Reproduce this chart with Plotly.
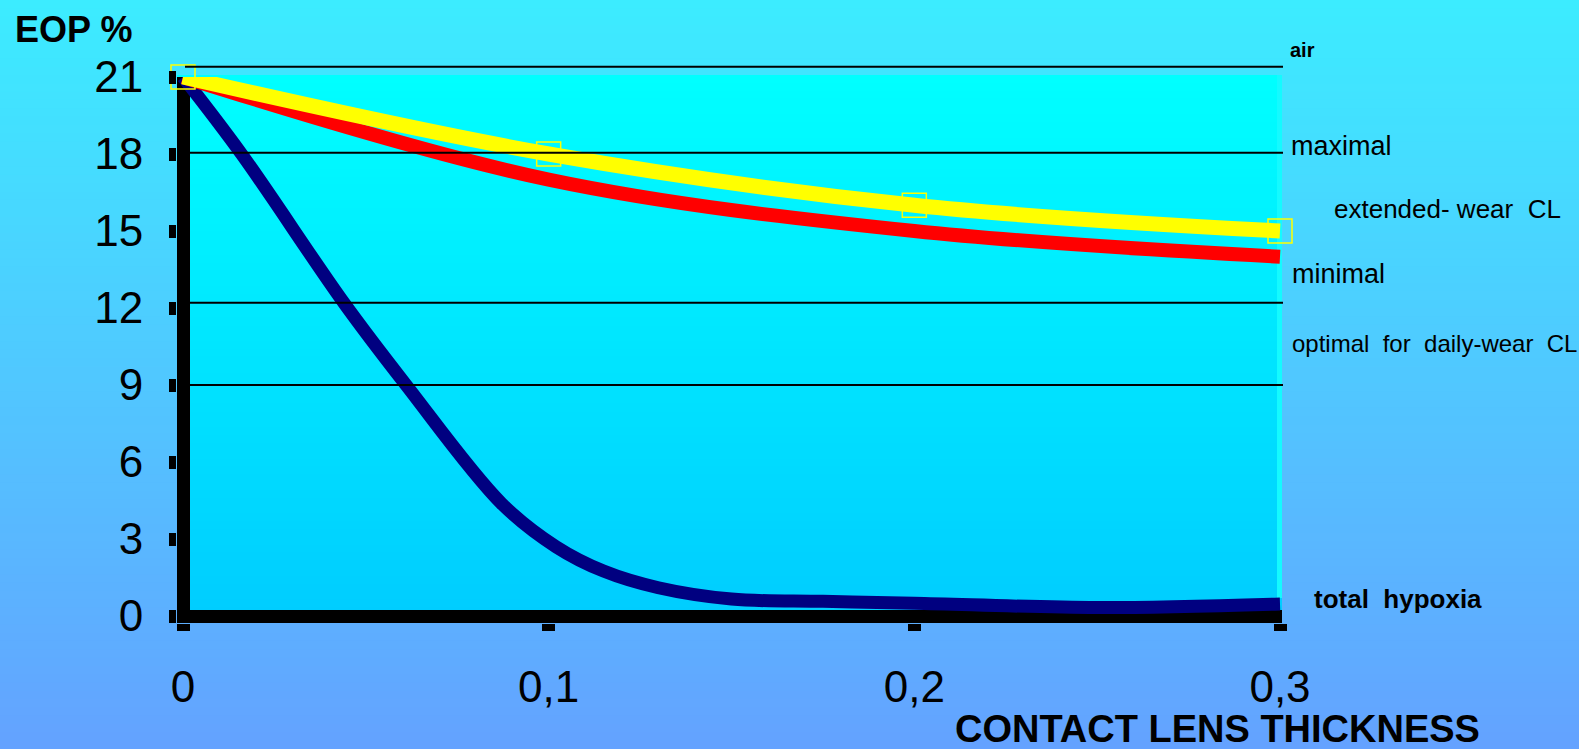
import plotly.graph_objects as go

# ---- data -------------------------------------------------------------
x_tick_vals = [0, 0.1, 0.2, 0.3]
x_tick_text = ["0", "0,1", "0,2", "0,3"]
y_tick_vals = [0, 3, 6, 9, 12, 15, 18, 21]

thickness = [0, 0.1, 0.2, 0.3]
eop_upper = [21, 18, 16, 15]   # yellow curve
eop_lower = [21, 17, 15, 14]   # red curve

hypoxia_thickness = [0, 0.016, 0.044, 0.061, 0.087, 0.102, 0.115, 0.13,
                     0.15, 0.175, 0.2, 0.25, 0.3]
hypoxia_eop = [21, 18.0, 12.2, 9.0, 4.4, 2.7, 1.75, 1.1,
               0.66, 0.57, 0.5, 0.33, 0.47]

level_lines = [9, 12.2, 18.05]   # reference levels inside the plot
air_level = 21.4                 # "air" level, drawn just above the frame

zone_labels = ["air", "maximal", "extended-\u00a0wear\u00a0 CL", "minimal",
               "optimal\u00a0 for\u00a0 daily-wear\u00a0 CL"]

# ---- geometry (pixels) ------------------------------------------------
W, H = 1579, 749
L, R, T, B = 177, 1282, 77, 623          # plot area edges
X0_PX, X3_PX = 183, 1280                 # pixel of x=0 and x=0.3
Y0_PX, Y21_PX = 616, 77                  # pixel of y=0 and y=21

kx = (X3_PX - X0_PX) / 0.3
ky = (Y0_PX - Y21_PX) / 21.0
x_range = [-(X0_PX - L) / kx, 0.3 + (R - X3_PX) / kx]
y_range = [-(B - Y0_PX) / ky, 21]


def px_x(p):
    return (p - L) / (R - L)


def px_y(p):
    return (B - p) / (B - T)


def lerp_color(stops, t):
    for (t0, c0), (t1, c1) in zip(stops, stops[1:]):
        if t <= t1:
            f = (t - t0) / (t1 - t0) if t1 > t0 else 0
            c = [round(a + (b - a) * f) for a, b in zip(c0, c1)]
            return "rgb(%d,%d,%d)" % tuple(c)
    return "rgb(%d,%d,%d)" % tuple(stops[-1][1])


shapes = []

# page background: vertical gradient cyan -> light blue
page_stops = [(0.0, (60, 236, 255)), (0.5, (80, 200, 255)), (1.0, (100, 162, 255))]
n = 90
for i in range(n):
    top = H * i / n
    bot = H * (i + 1) / n + 1
    shapes.append(dict(type="rect", xref="paper", yref="paper", layer="below",
                       x0=px_x(0), x1=px_x(W), y0=px_y(bot), y1=px_y(top),
                       line=dict(width=0),
                       fillcolor=lerp_color(page_stops, (i + 0.5) / n)))

# plot area background: cyan -> sky blue
plot_stops = [(0.0, (0, 255, 255)), (1.0, (0, 204, 255))]
n = 70
top0 = 75
for i in range(n):
    top = top0 + (B - top0) * i / n
    bot = top0 + (B - top0) * (i + 1) / n + 1
    shapes.append(dict(type="rect", xref="paper", yref="paper", layer="below",
                       x0=0, x1=1, y0=px_y(min(bot, B)), y1=px_y(top),
                       line=dict(width=0),
                       fillcolor=lerp_color(plot_stops, (i + 0.5) / n)))

# bright rim on the right edge of the plot area
shapes.append(dict(type="rect", xref="paper", yref="paper", layer="below",
                   x0=px_x(1277), x1=1, y0=px_y(598), y1=px_y(top0),
                   line=dict(width=0), fillcolor="rgb(20,250,255)"))

# level lines
for v in level_lines:
    shapes.append(dict(type="line", xref="paper", yref="y", layer="above",
                       x0=px_x(190), x1=px_x(1283), y0=v, y1=v,
                       line=dict(color="black", width=2)))
air_y = (air_level - y_range[0]) / (y_range[1] - y_range[0])
shapes.append(dict(type="line", xref="paper", yref="paper", layer="above",
                   x0=px_x(185), x1=px_x(1283), y0=air_y, y1=air_y,
                   line=dict(color="black", width=2)))

fig = go.Figure()
fig.add_trace(go.Scatter(x=hypoxia_thickness, y=hypoxia_eop, mode="lines",
                         line=dict(color="#000080", width=13, shape="spline"),
                         hoverinfo="skip", showlegend=False))
fig.add_trace(go.Scatter(x=thickness, y=eop_lower, mode="lines",
                         line=dict(color="#FF0000", width=14, shape="spline"),
                         hoverinfo="skip", showlegend=False))
fig.add_trace(go.Scatter(x=thickness, y=eop_upper, mode="lines+markers",
                         line=dict(color="#FFFF00", width=15, shape="spline"),
                         marker=dict(symbol="square-open", size=24,
                                     color="#FFFF00", line=dict(width=1.5)),
                         cliponaxis=False, hoverinfo="skip", showlegend=False))

FONT = "Liberation Sans, Arial, sans-serif"


def label(text, left_px, baseline_px, size, bold=False):
    return dict(text=text, xref="paper", yref="paper",
                x=px_x(left_px), y=px_y(baseline_px - 0.35 * size),
                xanchor="left", yanchor="middle", showarrow=False,
                font=dict(family=FONT, size=size, color="black",
                          weight="bold" if bold else "normal"))


annotations = [
    label(zone_labels[0], 1288, 57, 20, bold=True),
    label(zone_labels[1], 1289, 155, 27),
    label(zone_labels[2], 1332, 218, 26),
    label(zone_labels[3], 1290, 283, 27),
    label(zone_labels[4], 1290, 352, 24),
    label("total\u00a0 hypoxia", 1312, 608, 26, bold=True),
    label("EOP %", 13, 42, 36, bold=True),
    label("CONTACT LENS THICKNESS", 953, 742, 38, bold=True),
]

fig.update_layout(
    width=W, height=H,
    margin=dict(l=L, r=W - R, t=T, b=H - B, pad=0),
    paper_bgcolor="rgb(80,200,255)",
    plot_bgcolor="rgba(0,0,0,0)",
    shapes=shapes,
    annotations=annotations,
    showlegend=False,
    xaxis=dict(range=x_range, showgrid=False, showline=False,
               zeroline=True, zerolinecolor="black", zerolinewidth=13,
               tickmode="array", tickvals=x_tick_vals, ticktext=x_tick_text,
               ticks="outside", ticklen=7, tickwidth=13, tickcolor="black",
               ticklabelstandoff=18,
               tickfont=dict(family=FONT, size=44, color="black"),
               fixedrange=True),
    yaxis=dict(range=y_range, showgrid=False, showline=False,
               zeroline=True, zerolinecolor="black", zerolinewidth=13,
               tickmode="array", tickvals=y_tick_vals,
               ticks="outside", ticklen=7, tickwidth=13, tickcolor="black",
               ticklabelstandoff=17,
               tickfont=dict(family=FONT, size=44, color="black"),
               fixedrange=True),
)

fig.write_html("out.html")
